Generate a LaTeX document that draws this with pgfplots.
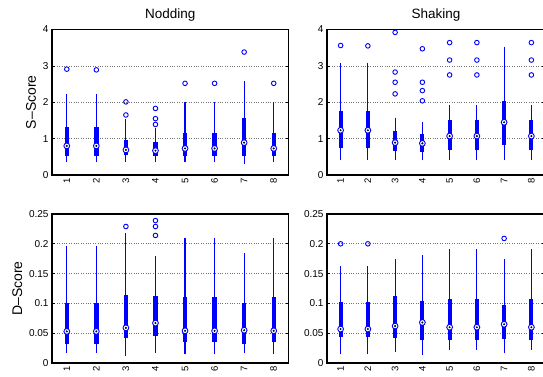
\documentclass[border=0pt]{standalone}
\usepackage{fontspec}
\setmainfont{Liberation Sans}
\usepackage{pgfplots}
\pgfplotsset{compat=1.18}
\usepgfplotslibrary{statistics}

\newcommand{\bx}[6]{\addplot[draw=blue, fill=blue, line width=1.1pt,
  boxplot prepared={draw direction=y, draw position=#1, lower whisker=#2, lower quartile=#3,
  median=#4, upper quartile=#5, upper whisker=#6, box extend=0.11, whisker extend=0}] coordinates {};}

\pgfplotsset{
  myax/.style={
    scale only axis, xmin=0.5, xmax=8.5,
    xtick={1,2,3,4,5,6,7,8},
    x tick label style={rotate=90, anchor=east, font=\fontsize{9.5}{10}\selectfont},
    y tick label style={font=\fontsize{10}{10}\selectfont},
    /pgf/number format/assume math mode=true,
    scaled y ticks=false,
    tick align=inside, major tick length=3pt,
    xtick style={draw=none},
    ytick style={black, line width=0.6pt},
    ytick pos=both,
    ymajorgrids, major grid style={dotted, black!55, line width=0.6pt},
    axis line style={line width=1.2pt},
    title style={font=\fontsize{13.5}{15}\selectfont, yshift=-1pt},
    ylabel style={font=\fontsize{14}{15}\selectfont},
  },
  sax/.style={ymin=0, ymax=4, ytick={0,1,2,3,4}},
  dax/.style={ymin=0, ymax=0.25, ytick={0,0.05,0.1,0.15,0.2,0.25},
    yticklabels={0,0.05,0.1,0.15,0.2,0.25}},
  medst/.style={only marks, mark=*, mark size=2.9pt, mark options={fill=white, draw=blue, line width=0.9pt}},
  dotst/.style={only marks, mark=*, mark size=0.8pt, black},
  outst/.style={only marks, mark=o, mark size=2.3pt, mark options={draw=blue, line width=0.9pt}},
}

\begin{document}
\begin{tikzpicture}
\useasboundingbox (0,0) rectangle (543pt,377pt);
\clip (0,0) rectangle (543pt,377pt);

% ---------------- Nodding S-Score
\begin{axis}[myax, sax, at={(52pt,202pt)}, anchor=south west,
  width=236.5pt, height=145.5pt, title={Nodding}, ylabel={S–Score}]
\bx{1}{0.36}{0.53}{0.80}{1.31}{2.22}
\bx{2}{0.36}{0.53}{0.80}{1.31}{2.22}
\bx{3}{0.36}{0.57}{0.69}{0.94}{1.53}
\bx{4}{0.36}{0.54}{0.67}{0.88}{1.30}
\bx{5}{0.36}{0.53}{0.73}{1.14}{2.00}
\bx{6}{0.36}{0.53}{0.73}{1.14}{2.00}
\bx{7}{0.30}{0.55}{0.89}{1.56}{2.58}
\bx{8}{0.36}{0.53}{0.73}{1.14}{2.00}
\addplot[medst] coordinates {(1,0.80) (2,0.80) (3,0.69) (4,0.67) (5,0.73) (6,0.73) (7,0.89) (8,0.73)};
\addplot[dotst] coordinates {(1,0.80) (2,0.80) (3,0.69) (4,0.67) (5,0.73) (6,0.73) (7,0.89) (8,0.73)};
\addplot[outst] coordinates {(1,2.91) (2,2.89) (3,2.01) (3,1.65) (4,1.83) (4,1.55) (4,1.39) (5,2.52) (6,2.52) (7,3.38) (8,2.52)};
\end{axis}

% ---------------- Shaking S-Score
\begin{axis}[myax, sax, at={(327pt,202pt)}, anchor=south west,
  width=218pt, height=145.5pt, title={Shaking}]
\bx{1}{0.41}{0.76}{1.23}{1.75}{3.08}
\bx{2}{0.41}{0.76}{1.23}{1.75}{3.08}
\bx{3}{0.41}{0.68}{0.89}{1.20}{1.58}
\bx{4}{0.41}{0.66}{0.87}{1.12}{1.45}
\bx{5}{0.41}{0.71}{1.07}{1.50}{1.93}
\bx{6}{0.41}{0.71}{1.07}{1.50}{1.93}
\bx{7}{0.41}{0.85}{1.45}{2.01}{3.52}
\bx{8}{0.41}{0.71}{1.07}{1.50}{1.93}
\addplot[medst] coordinates {(1,1.23) (2,1.23) (3,0.89) (4,0.87) (5,1.07) (6,1.07) (7,1.45) (8,1.07)};
\addplot[dotst] coordinates {(1,1.23) (2,1.23) (3,0.89) (4,0.87) (5,1.07) (6,1.07) (7,1.45) (8,1.07)};
\addplot[outst] coordinates {(1,3.56) (2,3.55) (3,3.92) (3,2.83) (3,2.55) (3,2.23) (4,3.47) (4,2.55) (4,2.32) (4,2.04) (5,3.64) (5,3.16) (5,2.75) (6,3.64) (6,3.16) (6,2.75) (8,3.64) (8,3.16) (8,2.75)};
\end{axis}

% ---------------- Nodding D-Score
\begin{axis}[myax, dax, at={(52pt,14pt)}, anchor=south west,
  width=236.5pt, height=149pt, ylabel={D–Score}]
\bx{1}{0.017}{0.032}{0.053}{0.099}{0.196}
\bx{2}{0.017}{0.032}{0.053}{0.099}{0.196}
\bx{3}{0.012}{0.043}{0.059}{0.113}{0.218}
\bx{4}{0.017}{0.046}{0.067}{0.112}{0.180}
\bx{5}{0.015}{0.036}{0.054}{0.109}{0.209}
\bx{6}{0.015}{0.036}{0.054}{0.109}{0.209}
\bx{7}{0.016}{0.032}{0.055}{0.099}{0.184}
\bx{8}{0.015}{0.036}{0.054}{0.109}{0.209}
\addplot[medst] coordinates {(1,0.053) (2,0.053) (3,0.059) (4,0.067) (5,0.054) (6,0.054) (7,0.055) (8,0.054)};
\addplot[dotst] coordinates {(1,0.053) (2,0.053) (3,0.059) (4,0.067) (5,0.054) (6,0.054) (7,0.055) (8,0.054)};
\addplot[outst] coordinates {(3,0.229) (4,0.239) (4,0.229) (4,0.214)};
\end{axis}

% ---------------- Shaking D-Score
\begin{axis}[myax, dax, at={(327pt,14pt)}, anchor=south west,
  width=218pt, height=149pt]
\bx{1}{0.015}{0.044}{0.057}{0.102}{0.163}
\bx{2}{0.015}{0.044}{0.057}{0.102}{0.163}
\bx{3}{0.019}{0.043}{0.062}{0.112}{0.174}
\bx{4}{0.013}{0.040}{0.068}{0.103}{0.182}
\bx{5}{0.022}{0.040}{0.060}{0.106}{0.191}
\bx{6}{0.022}{0.040}{0.060}{0.106}{0.191}
\bx{7}{0.016}{0.042}{0.065}{0.097}{0.174}
\bx{8}{0.022}{0.040}{0.060}{0.106}{0.191}
\addplot[medst] coordinates {(1,0.057) (2,0.057) (3,0.062) (4,0.068) (5,0.060) (6,0.060) (7,0.065) (8,0.060)};
\addplot[dotst] coordinates {(1,0.057) (2,0.057) (3,0.062) (4,0.068) (5,0.060) (6,0.060) (7,0.065) (8,0.060)};
\addplot[outst] coordinates {(1,0.200) (2,0.200) (7,0.209)};
\end{axis}
\end{tikzpicture}
\end{document}
